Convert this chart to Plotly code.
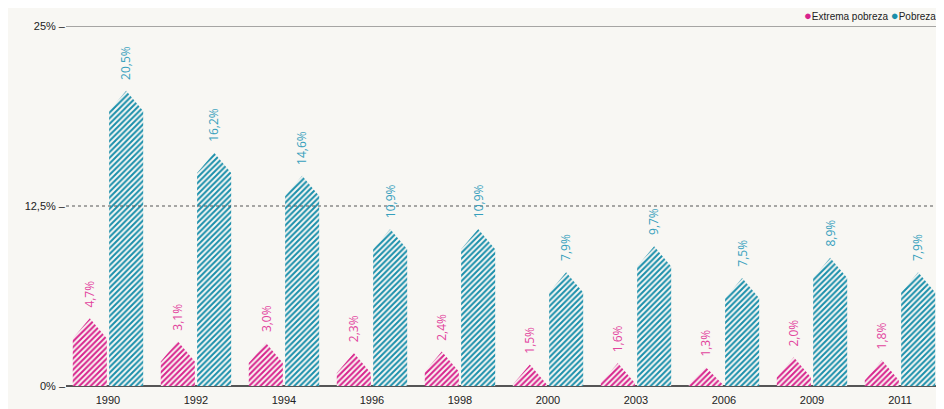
import plotly.graph_objects as go

years = ["1990", "1992", "1994", "1996", "1998", "2000", "2003", "2006", "2009", "2011"]
extrema = [4.7, 3.1, 3.0, 2.3, 2.4, 1.5, 1.6, 1.3, 2.0, 1.8]
pobreza = [20.5, 16.2, 14.6, 10.9, 10.9, 7.9, 9.7, 7.5, 8.9, 7.9]
y_ticks = [0, 12.5, 25]
y_ticktext = ["0% \u2013", "12,5% \u2013", "25% \u2013"]

PINK = "#d8238d"
TEAL = "#1a8fab"
PINK_TXT = "#e2449e"
TEAL_TXT = "#36a0bd"
BG = "#f8f7f3"
TIP = 1.4  # height of the pointed top, in % units


def arrow_bars(values, lo, hi):
    # pentagon "arrow" bars, one polygon per category, separated by None
    xs, ys = [], []
    for i, v in enumerate(values):
        a, b = i + lo, i + hi
        s = max(v - TIP, 0.1)
        xs += [a, a, (a + b) / 2, b, b, None]
        ys += [0, s, v, s, 0, None]
    return xs, ys


fig = go.Figure()
for vals, lo, hi, col in [(extrema, -0.40, -0.013, PINK), (pobreza, 0.013, 0.40, TEAL)]:
    xs, ys = arrow_bars(vals, lo, hi)
    fig.add_trace(go.Scatter(
        x=xs, y=ys, mode="lines", fill="toself", line=dict(width=0, color=col),
        fillcolor="rgba(0,0,0,0)",
        fillpattern=dict(shape="/", fgcolor=col, bgcolor=BG, fgopacity=1,
                         size=4, solidity=0.5),
        hoverinfo="skip", showlegend=False))

for i in range(len(years)):
    fig.add_annotation(x=i - 0.2065, y=extrema[i], text=f"{extrema[i]:.1f}%".replace(".", ","),
                       textangle=-90, showarrow=False, yanchor="bottom", yshift=9,
                       font=dict(size=12, color=PINK_TXT, family="Open Sans"))
    fig.add_annotation(x=i + 0.2065, y=pobreza[i], text=f"{pobreza[i]:.1f}%".replace(".", ","),
                       textangle=-90, showarrow=False, yanchor="bottom", yshift=9,
                       font=dict(size=12, color=TEAL_TXT, family="Open Sans"))

# reference lines
fig.add_hline(y=y_ticks[2], line=dict(color="#555", width=1))
fig.add_hline(y=y_ticks[1], line=dict(color="#555", width=1, dash="dot"))

# legend drawn as text
fig.add_annotation(
    xref="paper", yref="paper", x=0.993, y=1.028, xanchor="right", yanchor="middle",
    showarrow=False, align="left",
    text=(f"<span style='color:{PINK};font-size:13px'>\u25cf</span>Extrema pobreza "
          f"<span style='color:{TEAL};font-size:13px'>\u25cf</span>Pobreza"),
    font=dict(size=10, color="#222", family="Liberation Sans"))

fig.update_layout(
    width=936, height=401,
    margin=dict(l=58, r=0, t=18, b=23),
    paper_bgcolor=BG, plot_bgcolor=BG,
    showlegend=False,
    font=dict(family="Liberation Sans", size=11, color="#222"),
    xaxis=dict(range=[-0.477, 9.5], tickmode="array", tickvals=list(range(len(years))),
               ticktext=years, showgrid=False, zeroline=False, showline=False, ticks="",
               ticklabelstandoff=6, fixedrange=True),
    yaxis=dict(range=[0, 25], tickmode="array", tickvals=y_ticks, ticktext=y_ticktext,
               showgrid=False, zeroline=True, zerolinecolor="#555", zerolinewidth=1.5,
               showline=False, ticks="", fixedrange=True),
)

# no scrollbars in the page
fig.write_html("out.html", post_script="document.body.style.overflow = 'hidden';")
